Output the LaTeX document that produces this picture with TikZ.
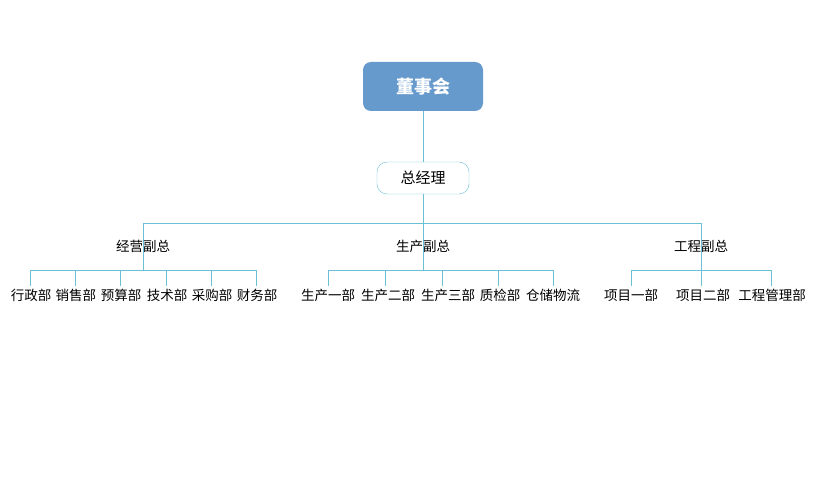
\documentclass[tikz,border=0pt]{standalone}
\usepackage{fontspec}
\setmainfont{Noto Sans CJK SC}
\usetikzlibrary{positioning}
\definecolor{boardblue}{RGB}{102,153,204}
\definecolor{linkblue}{RGB}{108,192,214}
\tikzset{
  link/.style={draw=linkblue,line width=0.9pt},
  board/.style={fill=boardblue,rounded corners=8pt,minimum width=120pt,minimum height=49pt,text=white,font=\fontsize{18}{20}\selectfont\bfseries},
  gmbox/.style={draw=linkblue,fill=white,rounded corners=10pt,minimum width=92pt,minimum height=32pt,font=\fontsize{15}{17}\selectfont},
  vp/.style={inner sep=1.5pt,font=\fontsize{13.5}{15}\selectfont},
  dept/.style={inner sep=3pt,font=\fontsize{13.5}{15}\selectfont}
}
\begin{document}
\begin{tikzpicture}[x=1pt,y=-1pt]
	\fill[white] (0,0) rectangle (823,500);
	\useasboundingbox (0,0) rectangle (823,500);

	\coordinate (bus) at (423,223);
	\coordinate (busa) at (143,270);
	\coordinate (busb) at (423,270);
	\coordinate (busc) at (701,270);

	% lines behind the vice labels
	\draw[link] (bus) -| (busa);
	\draw[link] (bus) -- (busb);
	\draw[link] (bus) -| (busc);

	\node[board] (top) at (423,86.5){董事会};
	\node[gmbox] (gm) at (423,178){总经理};

	\node[vp] (vp1) at (143,246){经营副总};
	\node[vp] (vp2) at (423,246){生产副总};
	\node[vp] (vp3) at (701,246){工程副总};

	% 经营
	\node[dept] (a1) at (31,295){行政部};
	\node[dept] (a2) at (76,295){销售部};
	\node[dept] (a3) at (121,295){预算部};
	\node[dept] (a4) at (167,295){技术部};
	\node[dept] (a5) at (212,295){采购部};
	\node[dept] (a6) at (257,295){财务部};

	% 生产
	\node[dept] (b1) at (328,295){生产一部};
	\node[dept] (b2) at (388,295){生产二部};
	\node[dept] (b3) at (448,295){生产三部};
	\node[dept] (b4) at (500,295){质检部};
	\node[dept] (b5) at (553,295){仓储物流};

	% 工程
	\node[dept] (c1) at (631,295){项目一部};
	\node[dept] (c2) at (703,295){项目二部};
	\node[dept] (c3) at (772,295){工程管理部};

	\draw[link] (top) -- (gm);
	\draw[link] (gm) -- (bus);

	\draw[link] (busa) -| (30,0 |- a1.north);
	\draw[link] (busa) -| (256,0 |- a6.north);
	\draw[link] (75,270) -- (75,0 |- a2.north);
	\draw[link] (120,270) -- (120,0 |- a3.north);
	\draw[link] (166,270) -- (166,0 |- a4.north);
	\draw[link] (211,270) -- (211,0 |- a5.north);

	\draw[link] (busb) -| (b1.north);
	\draw[link] (busb) -| (b5.north);
	\draw[link] (385,270) -- (385,0 |- b2.north);
	\draw[link] (442,270) -- (442,0 |- b3.north);
	\draw[link] (498,270) -- (498,0 |- b4.north);

	\draw[link] (busc) -| (c1.north);
	\draw[link] (busc) -| (771,0 |- c3.north);
	\draw[link] (busc) -- (701,0 |- c2.north);

\end{tikzpicture}
\end{document}
